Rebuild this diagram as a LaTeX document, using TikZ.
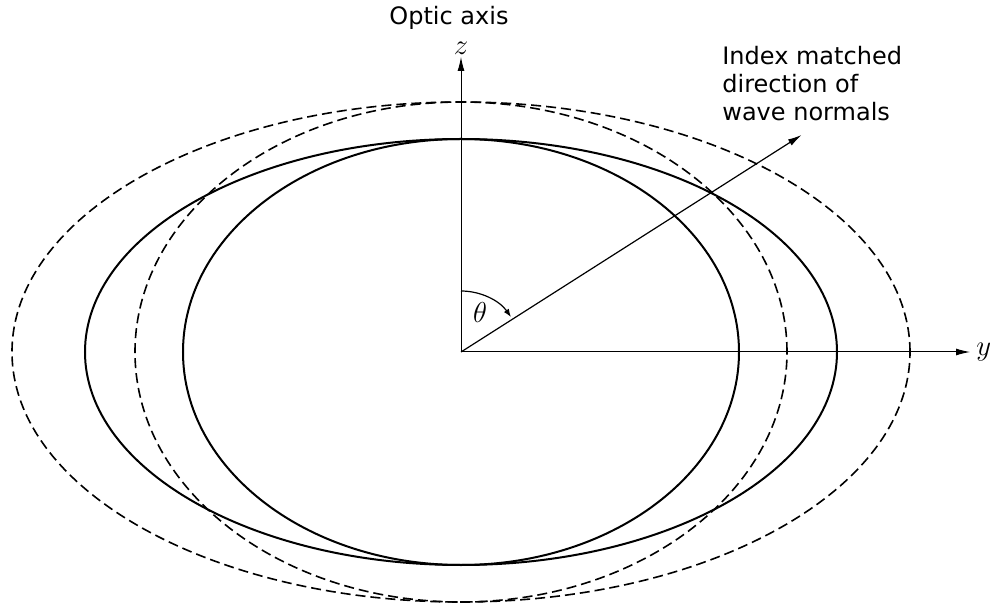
\documentclass[tikz,border=0pt]{standalone}
\usepackage{fontspec}
\setmainfont{DejaVu Sans}
\usetikzlibrary{arrows.meta,positioning}

\begin{document}
\begin{tikzpicture}[
  x=0.5pt, y=0.5pt,
  surface/.style={line width=1pt},
  dashsurface/.style={line width=0.8pt,dash pattern=on 5pt off 2.5pt},
  axis/.style={line width=0.5pt,-{Latex[length=7pt,width=3.5pt]}},
  lbl/.style={font=\fontsize{12}{14}\selectfont,inner sep=1pt},
  mathlbl/.style={font=\fontsize{15}{17}\selectfont,inner sep=1pt}
]
  \useasboundingbox (-461,-258) rectangle (534,352);
  \coordinate (origin) at (0,0);

  % index surfaces
  \draw[surface] (origin) ellipse [x radius=278, y radius=213];
  \draw[surface] (origin) ellipse [x radius=376, y radius=213];
  \draw[dashsurface] (origin) ellipse [x radius=326, y radius=250];
  \draw[dashsurface] (origin) ellipse [x radius=449, y radius=250];

  % axes
  \coordinate (zend) at (0,295);
  \coordinate (yend) at (509,0);
  \draw[axis] (origin) -- (zend);
  \draw[axis] (origin) -- (yend);
  \node[mathlbl, above=0pt of zend] (zlabel) {$z$};
  \node[lbl] (optic) at (-12,334) {Optic axis};
  \node[mathlbl, right=2pt of yend] (ylabel) {$y$};

  % matched direction
  \coordinate (wavedir) at (32.5:404);
  \draw[line width=0.6pt,-{Latex[length=7pt,width=3.5pt]}] (origin) -- (wavedir);
  \node[lbl, align=left, anchor=west] (matched) at (259,268) {Index matched\\direction of\\wave normals};
  \draw[line width=0.6pt,-{Latex[length=4pt,width=3pt]}] (0,61) arc [start angle=90, end angle=35, radius=61];
  \node[mathlbl] (theta) at (19,39) {$\theta$};
\end{tikzpicture}
\end{document}
